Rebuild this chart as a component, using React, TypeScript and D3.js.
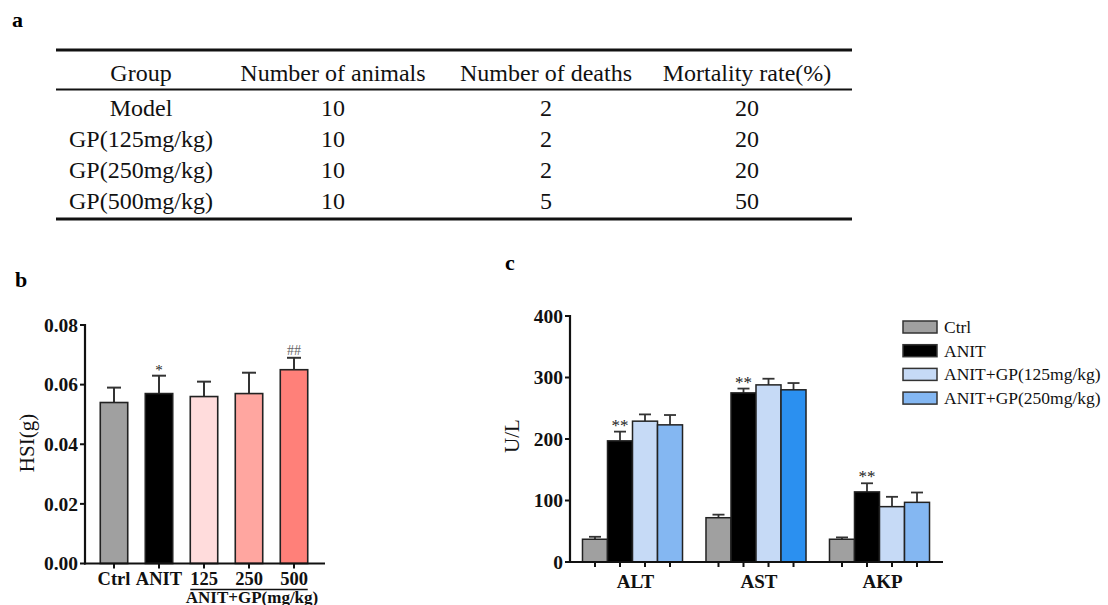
import React from 'react';
import * as d3 from 'd3';

// ---------- data ----------
const tableHeaders = ['Group', 'Number of animals', 'Number of deaths', 'Mortality rate(%)'];
const tableGroups = ['Model', 'GP(125mg/kg)', 'GP(250mg/kg)', 'GP(500mg/kg)'];
const tableAnimals = [10, 10, 10, 10];
const tableDeaths = [2, 2, 2, 5];
const tableMortality = [20, 20, 20, 50];

const hsiCategories = ['Ctrl', 'ANIT', '125', '250', '500'];
const hsiMeans = [0.054, 0.057, 0.056, 0.057, 0.065];
const hsiErrors = [0.005, 0.006, 0.005, 0.007, 0.004];
const hsiMarks = ['', '*', '', '', '##'];
const hsiTicks = [0, 0.02, 0.04, 0.06, 0.08];
const hsiGroupLabel = 'ANIT+GP(mg/kg)';

const enzymeCategories = ['ALT', 'AST', 'AKP'];
const enzymeSeries = ['Ctrl', 'ANIT', 'ANIT+GP(125mg/kg)', 'ANIT+GP(250mg/kg)'];
const enzymeMeans = [
  [37, 197, 229, 223],
  [72, 275, 288, 280],
  [37, 114, 90, 97],
];
const enzymeErrors = [
  [4, 15, 11, 16],
  [5, 7, 10, 11],
  [3, 14, 16, 16],
];
const enzymeMarks = ['', '**', '', ''];
const enzymeTicks = [0, 100, 200, 300, 400];

// ---------- styles ----------
const FONT = '"Liberation Serif", "Times New Roman", Times, serif';
const hsiColors = ['#a0a0a0', '#000000', '#ffdcdc', '#ffa6a0', '#ff8079'];
const enzymeColors = ['#a0a0a0', '#000000', '#c6daf6', '#84b7f2'];
const enzymeOverride: Record<string, string> = { 'AST|3': '#2b90f0' };
const STROKE = '#222';

export default function App() {
  // table layout
  const colX = [141, 333, 546, 747];
  const headerY = 81;
  const rowY = (i: number) => 115.5 + i * 31;
  const tableRows = tableGroups.map((g, i) => [g, tableAnimals[i], tableDeaths[i], tableMortality[i]]);

  // panel b scales
  const xB = d3.scaleBand<string>().domain(hsiCategories).range([91.5, 316.5]).paddingInner(0.39).paddingOuter(0.195);
  const yB = d3.scaleLinear().domain([0, 0.08]).range([563.5, 325]);
  const fmtB = d3.format('.2f');

  // panel c scales
  const xC = d3.scaleBand<string>().domain(enzymeCategories).range([570.75, 941.25]).paddingInner(0.19).paddingOuter(0.095);
  const xS = d3.scaleBand<string>().domain(enzymeSeries).range([0, xC.bandwidth()]);
  const yC = d3.scaleLinear().domain([0, 400]).range([562, 316]);

  return (
    <svg width={1108} height={605} style={{ position: 'absolute', left: 0, top: 0, background: '#fff' }} fontFamily={FONT}>
      <rect x={0} y={0} width={1108} height={605} fill="#fff" />
      {/* panel letters */}
      <text x={12} y={27} fontSize={22} fontWeight="bold">a</text>
      <text x={15} y={287} fontSize={22} fontWeight="bold">b</text>
      <text x={505} y={270} fontSize={22} fontWeight="bold">c</text>

      {/* ---------- table ---------- */}
      <line x1={56} x2={852} y1={50} y2={50} stroke="#111" strokeWidth={3} />
      <line x1={56} x2={852} y1={89.5} y2={89.5} stroke="#111" strokeWidth={2} />
      <line x1={56} x2={852} y1={219} y2={219} stroke="#111" strokeWidth={3} />
      {tableHeaders.map((h, j) => (
        <text key={h} x={colX[j]} y={headerY} fontSize={24} textAnchor="middle" fill="#111">{h}</text>
      ))}
      {tableRows.map((row, i) =>
        row.map((v, j) => (
          <text key={`${i}-${j}`} x={colX[j]} y={rowY(i)} fontSize={24} textAnchor="middle" fill="#111">{String(v)}</text>
        ))
      )}

      {/* ---------- panel b ---------- */}
      {hsiCategories.map((c, i) => {
        const x = xB(c)!;
        const w = xB.bandwidth();
        const cx = x + w / 2;
        const yTop = yB(hsiMeans[i]);
        const yErr = yB(hsiMeans[i] + hsiErrors[i]);
        return (
          <g key={c}>
            <line x1={cx} x2={cx} y1={yTop} y2={yErr} stroke="#333" strokeWidth={2} />
            <line x1={cx - 7} x2={cx + 7} y1={yErr} y2={yErr} stroke="#333" strokeWidth={2} />
            <rect x={x} y={yTop} width={w} height={yB(0) - yTop} fill={hsiColors[i]} stroke={STROKE} strokeWidth={1.6} />
            {hsiMarks[i] === '*' && (
              <text x={cx} y={yErr - 0.5} fontSize={15} textAnchor="middle" fill="#222">*</text>
            )}
            {hsiMarks[i] === '##' && (
              <text x={cx} y={yErr - 3} fontSize={14} textAnchor="middle" fill="#666">##</text>
            )}
            <line x1={cx} x2={cx} y1={yB(0)} y2={yB(0) + 5} stroke="#111" strokeWidth={2} />
            <text x={cx} y={585} fontSize={18.5} fontWeight="bold" textAnchor="middle" fill="#111">{c}</text>
          </g>
        );
      })}
      <line x1={85} x2={85} y1={324} y2={yB(0) + 1} stroke="#111" strokeWidth={2.2} />
      <line x1={84} x2={325} y1={yB(0)} y2={yB(0)} stroke="#111" strokeWidth={2.2} />
      {hsiTicks.map((t) => (
        <g key={t}>
          <line x1={80} x2={85} y1={yB(t)} y2={yB(t)} stroke="#111" strokeWidth={2} />
          <text x={78} y={yB(t)} dy="0.34em" fontSize={19.5} fontWeight="bold" textAnchor="end" fill="#111">{fmtB(t)}</text>
        </g>
      ))}
      <line x1={xB('125')!} x2={xB('500')! + xB.bandwidth()} y1={589.5} y2={589.5} stroke="#111" strokeWidth={1.5} />
      <text x={(xB('125')! + xB('500')! + xB.bandwidth()) / 2 + 3} y={602.5} fontSize={17} fontWeight="bold" textAnchor="middle" fill="#111">{hsiGroupLabel}</text>
      <text transform="translate(27,443) rotate(-90)" dy="0.35em" fontSize={21} textAnchor="middle" fill="#111">HSI(g)</text>

      {/* ---------- panel c ---------- */}
      {enzymeCategories.map((cat, gi) => {
        const gx = xC(cat)!;
        return (
          <g key={cat}>
            {enzymeSeries.map((s, si) => {
              const x = gx + xS(s)!;
              const w = xS.bandwidth();
              const cx = x + w / 2;
              const yTop = yC(enzymeMeans[gi][si]);
              const yErr = yC(enzymeMeans[gi][si] + enzymeErrors[gi][si]);
              const fill = enzymeOverride[`${cat}|${si}`] || enzymeColors[si];
              return (
                <g key={s}>
                  <line x1={cx} x2={cx} y1={yTop} y2={yErr} stroke="#333" strokeWidth={1.8} />
                  <line x1={cx - 6} x2={cx + 6} y1={yErr} y2={yErr} stroke="#333" strokeWidth={1.8} />
                  <rect x={x} y={yTop} width={w} height={yC(0) - yTop} fill={fill} stroke={STROKE} strokeWidth={1.5} />
                  {enzymeMarks[si] && (
                    <text x={cx} y={yErr - 1} fontSize={17} textAnchor="middle" fill="#222">{enzymeMarks[si]}</text>
                  )}
                  <line x1={cx} x2={cx} y1={yC(0)} y2={yC(0) + 5} stroke="#111" strokeWidth={2} />
                </g>
              );
            })}
            <text x={gx + xC.bandwidth() / 2 + 3} y={588} fontSize={19} fontWeight="bold" textAnchor="middle" fill="#111">{cat}</text>
          </g>
        );
      })}
      <line x1={570} x2={570} y1={315} y2={yC(0) + 1} stroke="#111" strokeWidth={2.2} />
      <line x1={569} x2={943} y1={yC(0)} y2={yC(0)} stroke="#111" strokeWidth={2.2} />
      {enzymeTicks.map((t) => (
        <g key={t}>
          <line x1={565} x2={570} y1={yC(t)} y2={yC(t)} stroke="#111" strokeWidth={2} />
          <text x={563} y={yC(t)} dy="0.34em" fontSize={19.5} fontWeight="bold" textAnchor="end" fill="#111">{t}</text>
        </g>
      ))}
      <text transform="translate(512,436) rotate(-90)" dy="0.35em" fontSize={21} textAnchor="middle" fill="#111">U/L</text>

      {/* legend */}
      {enzymeSeries.map((s, i) => {
        const cy = 327 + i * 23.7;
        return (
          <g key={s}>
            <rect x={903} y={cy - 6} width={34} height={12} fill={enzymeColors[i]} stroke="#333" strokeWidth={1.5} />
            <text x={944} y={cy} dy="0.34em" fontSize={17.5} fill="#111">{s}</text>
          </g>
        );
      })}
    </svg>
  );
}
